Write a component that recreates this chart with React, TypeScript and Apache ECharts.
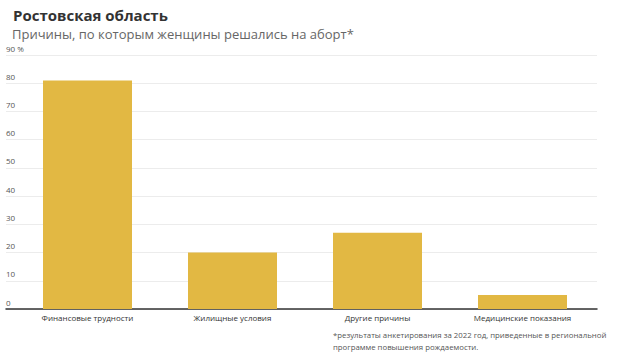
import React, { useEffect, useRef } from "react";
import * as echarts from "echarts";

const titleText = "Ростовская область";
const subtitleText = "Причины, по которым женщины решались на аборт*";
const categories = [
  "Финансовые трудности",
  "Жилищные условия",
  "Другие причины",
  "Медицинские показания",
];
const values = [81, 20, 27, 5];
const yTicks = [0, 10, 20, 30, 40, 50, 60, 70, 80, 90];
const footnoteLines = [
  "*результаты анкетирования за 2022 год, приведенные в региональной",
  "программе повышения рождаемости.",
];

const FONT = "'Open Sans', sans-serif";

export default function App() {
  const ref = useRef<HTMLDivElement>(null);
  useEffect(() => {
    if (!ref.current) return;
    const chart = echarts.init(ref.current, null, { renderer: "svg" });
    const yMax = yTicks[yTicks.length - 1];
    chart.setOption({
      animation: false,
      backgroundColor: "#ffffff",
      title: [
        {
          text: titleText,
          left: 8,
          top: 2,
          textStyle: { fontFamily: FONT, fontSize: 15, fontWeight: "bold", color: "#333333" },
        },
        {
          text: subtitleText,
          left: 7,
          top: 22,
          textStyle: { fontFamily: FONT, fontSize: 13, fontWeight: "normal", color: "#666666" },
        },
      ],
      grid: [
        { left: 6, right: 23, top: 55, bottom: 53 },
        { left: 15, right: 25, top: 55, bottom: 53 },
      ],
      xAxis: [
        {
          type: "category",
          gridIndex: 0,
          data: categories,
          axisLine: { show: true, lineStyle: { color: "#333333", width: 1.5 } },
          axisTick: { show: false },
          axisLabel: { show: false },
          splitLine: { show: false },
        },
        {
          type: "category",
          gridIndex: 1,
          data: categories,
          axisLine: { show: false },
          axisTick: { show: false },
          axisLabel: {
            fontFamily: FONT,
            fontSize: 8,
            color: "#333333",
            margin: 4,
          },
        },
      ],
      yAxis: [
        {
          type: "value",
          gridIndex: 0,
          min: 0,
          max: yMax,
          interval: 10,
          axisLine: { show: false },
          axisTick: { show: false },
          splitLine: { lineStyle: { color: "#ececec", width: 1 } },
          axisLabel: {
            align: "left",
            verticalAlign: "bottom",
            margin: 0,
            padding: [0, 0, 3, 0],
            fontFamily: FONT,
            fontSize: 8,
            color: "#555555",
            formatter: (v: number) => (v === yMax ? `${v} %` : `${v}`),
          },
        },
        {
          type: "value",
          gridIndex: 1,
          min: 0,
          max: yMax,
          interval: 10,
          show: false,
          splitLine: { show: false },
        },
      ],
      series: [
        {
          type: "bar",
          xAxisIndex: 1,
          yAxisIndex: 1,
          data: values,
          barWidth: 89,
          itemStyle: { color: "#E2B843" },
        },
      ],
      graphic: footnoteLines.map((t, i) => ({
        type: "text",
        left: 333,
        top: 331 + i * 12,
        style: { text: t, fontFamily: FONT, fontSize: 7.8, fill: "#555555" },
      })),
    });
    return () => chart.dispose();
  }, []);
  return <div ref={ref} style={{ width: 620, height: 362, position: "absolute", left: 0, top: 0 }} />;
}
